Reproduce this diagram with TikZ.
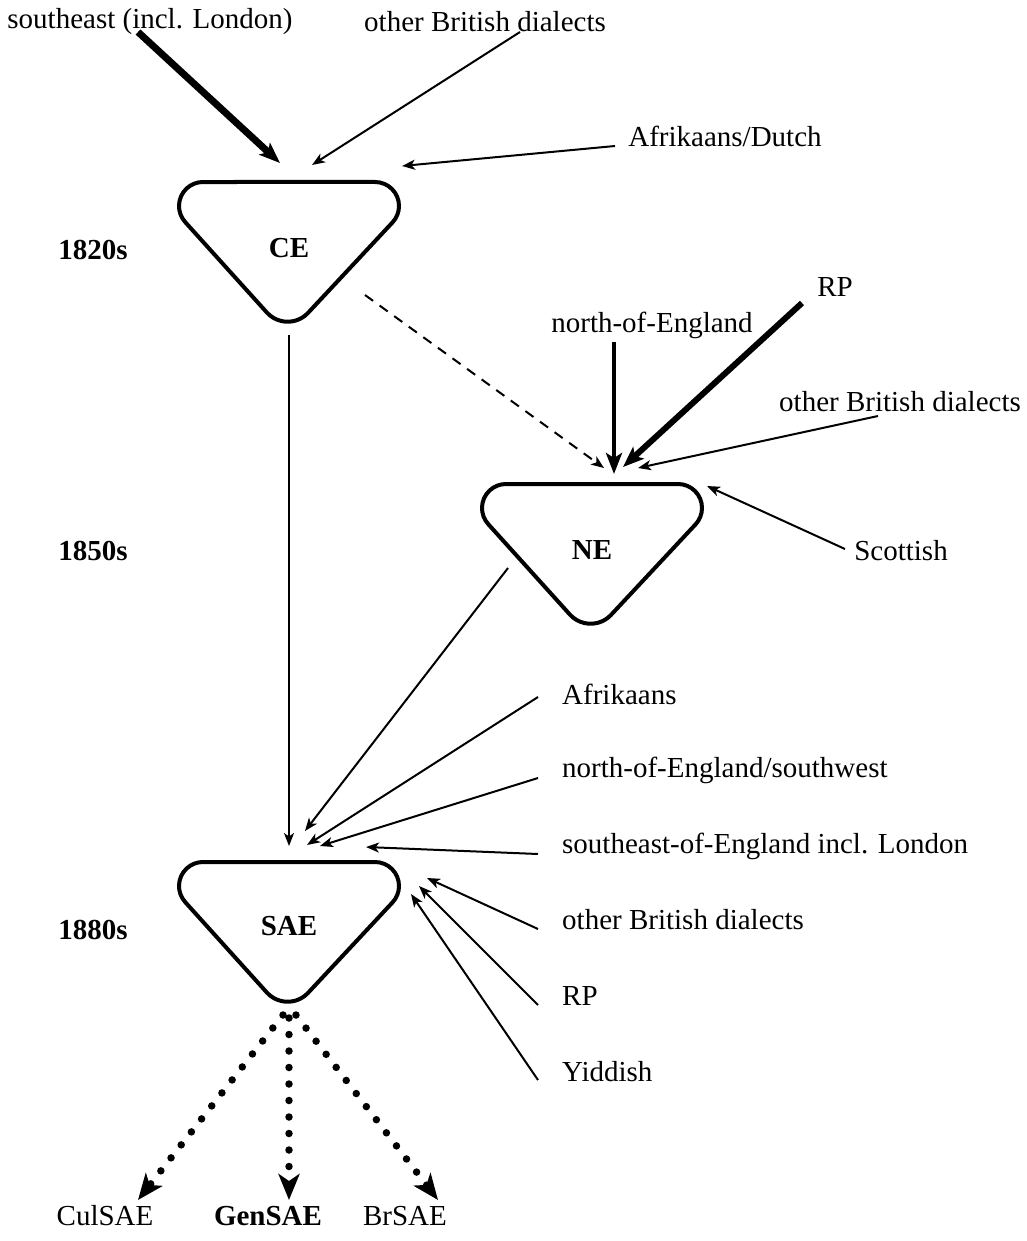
\documentclass[tikz,border=0pt]{standalone}
\usepackage{fontspec}
\setmainfont{Liberation Serif}
\usetikzlibrary{arrows.meta}
\newcommand{\trishape}[2]{%
  \begin{scope}[shift={(#1,#2)},yscale=-1]
    \draw[tribox] (0,0) -- (86,0) arc[start angle=90,end angle=-43,radius=24]
      -- (19.1,-130.83) arc[start angle=-43,end angle=-137,radius=28]
      -- (-103.55,-40.37) arc[start angle=223,end angle=90,radius=24] -- cycle;
  \end{scope}}
\begin{document}
\begin{tikzpicture}[x=1pt,y=-1pt,
  lab/.style={font=\fontsize{29}{34}\selectfont, inner sep=0pt},
  blab/.style={font=\fontsize{29}{34}\selectfont\bfseries, inner sep=0pt},
  rlab/.style={lab, anchor=west},
  thinarr/.style={line width=2pt, -{Stealth[length=13pt,width=10pt,inset=3.5pt]}},
  thickarr/.style={-{Stealth[length=21pt,width=16pt,inset=5pt]}},
  dasharr/.style={line width=2pt, dash pattern=on 10pt off 8pt, -{Stealth[length=13pt,width=10pt,inset=3.5pt]}},
  dotarr/.style={line width=7.5pt, line cap=round, dash pattern=on 0pt off 16.5pt, -{Stealth[length=26pt,width=21pt,inset=7pt]}},
  tribox/.style={line width=4pt, line join=round}
]
\useasboundingbox (0,0) rectangle (1026,1241);

% shapes and labels
\node[blab] (CE) at (289,248) {CE};
\node[blab] (NE) at (592,550) {NE};
\node[blab] (SAE) at (289,926) {SAE};
\trishape{289}{182}
\trishape{592}{484}
\trishape{289}{862}

% years
\node[blab] (y1) at (93,250) {1820s};
\node[blab] (y2) at (93,551) {1850s};
\node[blab] (y3) at (93,930) {1880s};

% source labels
\node[lab] (se) at (150,22) {southeast (incl. London)};
\node[lab] (obdA) at (485,22) {other British dialects};
\node[lab] (afd) at (725,136) {Afrikaans/Dutch};
\node[lab] (rpA) at (835,287) {RP};
\node[lab] (noe) at (652,325) {north-of-England};
\node[lab] (obdB) at (900,402) {other British dialects};
\node[lab] (scot) at (901,551) {Scottish};
\node[rlab] (afr) at (562,694) {Afrikaans};
\node[rlab] (noesw) at (562,770) {north-of-England/southwest};
\node[rlab] (seoe) at (562,846) {southeast-of-England incl. London};
\node[rlab] (obdC) at (562,920) {other British dialects};
\node[rlab] (rpB) at (562,996) {RP};
\node[rlab] (yid) at (562,1072) {Yiddish};
\node[lab] (cul) at (105,1216) {CulSAE};
\node[blab] (gen) at (268,1216) {GenSAE};
\node[lab] (br) at (405,1216) {BrSAE};

% connector end points
\coordinate (seS) at (138,32);   \coordinate (seT) at (280,163);
\coordinate (obdAS) at (520,32); \coordinate (obdAT) at (312,165);
\coordinate (afdS) at (615,146); \coordinate (afdT) at (402,166);
\coordinate (CEout) at (289,335); \coordinate (SAEtop) at (289,846);
\coordinate (CEdash) at (365,295); \coordinate (NEdash) at (604,468);
\coordinate (noeS) at (614,342); \coordinate (noeT) at (614,474);
\coordinate (rpAS) at (802,303); \coordinate (rpAT) at (623,467);
\coordinate (obdBS) at (878,416); \coordinate (obdBT) at (638,468);
\coordinate (scotS) at (845,549); \coordinate (scotT) at (707,486);
\coordinate (NEout) at (508,568); \coordinate (NEinS) at (305,831);
\coordinate (afrS) at (538,697); \coordinate (afrT) at (307,845);
\coordinate (noeswS) at (538,778); \coordinate (noeswT) at (320,846);
\coordinate (seoeS) at (538,854); \coordinate (seoeT) at (366,847);
\coordinate (obdCS) at (538,929); \coordinate (obdCT) at (427,878);
\coordinate (rpBS) at (538,1005); \coordinate (rpBT) at (419,886);
\coordinate (yidS) at (538,1080); \coordinate (yidT) at (411,894);
\coordinate (SAEl) at (283,1015); \coordinate (culT) at (138,1200);
\coordinate (SAEm) at (289,1018); \coordinate (genT) at (289,1200);
\coordinate (SAEr) at (296,1015); \coordinate (brT) at (438,1200);

% connectors
\draw[thickarr, line width=7pt] (seS) -- (seT);
\draw[thinarr] (obdAS) -- (obdAT);
\draw[thinarr] (afdS) -- (afdT);
\draw[thinarr] (CEout) -- (SAEtop);
\draw[dasharr] (CEdash) -- (NEdash);
\draw[thickarr, line width=4.5pt] (noeS) -- (noeT);
\draw[thickarr, line width=6pt] (rpAS) -- (rpAT);
\draw[thinarr] (obdBS) -- (obdBT);
\draw[thinarr] (scotS) -- (scotT);
\draw[thinarr] (NEout) -- (NEinS);
\draw[thinarr] (afrS) -- (afrT);
\draw[thinarr] (noeswS) -- (noeswT);
\draw[thinarr] (seoeS) -- (seoeT);
\draw[thinarr] (obdCS) -- (obdCT);
\draw[thinarr] (rpBS) -- (rpBT);
\draw[thinarr] (yidS) -- (yidT);
\draw[dotarr] (SAEl) -- (culT);
\draw[dotarr] (SAEm) -- (genT);
\draw[dotarr] (SAEr) -- (brT);
\end{tikzpicture}
\end{document}
